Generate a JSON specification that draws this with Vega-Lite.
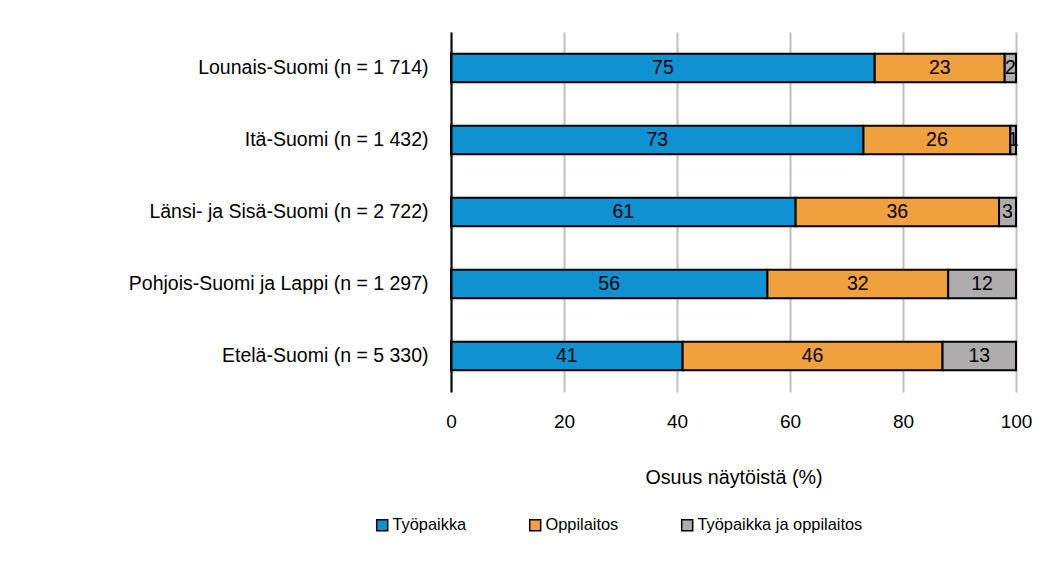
{
  "$schema": "https://vega.github.io/schema/vega-lite/v6.json",
  "width": 565,
  "height": 360,
  "autosize": {"type": "none"},
  "padding": {"left": 451, "top": 32, "right": 41, "bottom": 176},
  "background": "white",
  "config": {
    "font": "Liberation Sans",
    "view": {"stroke": null}
  },
  "data": {
    "values": [
      {"region": "Lounais-Suomi (n = 1 714)", "type": "Työpaikka", "value": 75},
      {"region": "Lounais-Suomi (n = 1 714)", "type": "Oppilaitos", "value": 23},
      {"region": "Lounais-Suomi (n = 1 714)", "type": "Työpaikka ja oppilaitos", "value": 2},
      {"region": "Itä-Suomi (n = 1 432)", "type": "Työpaikka", "value": 73},
      {"region": "Itä-Suomi (n = 1 432)", "type": "Oppilaitos", "value": 26},
      {"region": "Itä-Suomi (n = 1 432)", "type": "Työpaikka ja oppilaitos", "value": 1},
      {"region": "Länsi- ja Sisä-Suomi (n = 2 722)", "type": "Työpaikka", "value": 61},
      {"region": "Länsi- ja Sisä-Suomi (n = 2 722)", "type": "Oppilaitos", "value": 36},
      {"region": "Länsi- ja Sisä-Suomi (n = 2 722)", "type": "Työpaikka ja oppilaitos", "value": 3},
      {"region": "Pohjois-Suomi ja Lappi (n = 1 297)", "type": "Työpaikka", "value": 56},
      {"region": "Pohjois-Suomi ja Lappi (n = 1 297)", "type": "Oppilaitos", "value": 32},
      {"region": "Pohjois-Suomi ja Lappi (n = 1 297)", "type": "Työpaikka ja oppilaitos", "value": 12},
      {"region": "Etelä-Suomi (n = 5 330)", "type": "Työpaikka", "value": 41},
      {"region": "Etelä-Suomi (n = 5 330)", "type": "Oppilaitos", "value": 46},
      {"region": "Etelä-Suomi (n = 5 330)", "type": "Työpaikka ja oppilaitos", "value": 13}
    ]
  },
  "transform": [
    {"stack": "value", "groupby": ["region"], "as": ["x0", "x1"]}
  ],
  "encoding": {
    "y": {
      "field": "region",
      "type": "nominal",
      "sort": [
        "Lounais-Suomi (n = 1 714)",
        "Itä-Suomi (n = 1 432)",
        "Länsi- ja Sisä-Suomi (n = 2 722)",
        "Pohjois-Suomi ja Lappi (n = 1 297)",
        "Etelä-Suomi (n = 5 330)"
      ],
      "scale": {"paddingInner": 0.604, "paddingOuter": 0.302},
      "axis": {
        "title": null,
        "ticks": false,
        "domain": true,
        "domainColor": "black",
        "domainWidth": 2,
        "labelFontSize": 19.5,
        "labelColor": "black",
        "labelPadding": 23,
        "labelLimit": 500,
        "zindex": 1
      }
    }
  },
  "layer": [
    {
      "mark": {"type": "bar", "stroke": "black", "strokeWidth": 2},
      "encoding": {
        "x": {
          "field": "x0",
          "type": "quantitative",
          "scale": {"domain": [0, 100], "nice": false},
          "axis": {
            "title": "Osuus näytöistä (%)",
            "values": [0, 20, 40, 60, 80, 100],
            "grid": true,
            "gridColor": "#BFBFBF",
            "gridWidth": 2,
            "domain": false,
            "ticks": false,
            "tickSize": 0,
            "labelFontSize": 19,
            "labelColor": "black",
            "labelPadding": 20,
            "labelFlush": false,
            "titleFontSize": 19.7,
            "titleFontWeight": "normal",
            "titleColor": "black",
            "titleBaseline": "alphabetic",
            "titleY": 91
          }
        },
        "x2": {"field": "x1"},
        "color": {
          "field": "type",
          "type": "nominal",
          "scale": {
            "domain": ["Työpaikka", "Oppilaitos", "Työpaikka ja oppilaitos"],
            "range": ["#0F92D2", "#F0A03C", "#AEACAC"]
          },
          "legend": {
            "title": null,
            "orient": "none",
            "direction": "horizontal",
            "legendX": -77,
            "legendY": 485,
            "padding": 0,
            "symbolType": "square",
            "symbolSize": 121,
            "symbolStrokeColor": "black",
            "symbolStrokeWidth": 1.5,
            "symbolOpacity": 1,
            "labelFontSize": 16.4,
            "labelColor": "black",
            "labelOffset": 2,
            "columnPadding": 59,
            "labelLimit": 400
          }
        }
      }
    },
    {
      "transform": [
        {"fold": ["x0", "x1"], "as": ["edge", "pos"]},
        {"aggregate": [{"op": "mean", "field": "pos", "as": "mid"}], "groupby": ["region", "type", "value"]}
      ],
      "mark": {"type": "text", "fontSize": 19.5, "color": "black", "align": "center", "baseline": "middle"},
      "encoding": {
        "x": {"field": "mid", "type": "quantitative"},
        "text": {"field": "value", "type": "quantitative"}
      }
    }
  ]
}
